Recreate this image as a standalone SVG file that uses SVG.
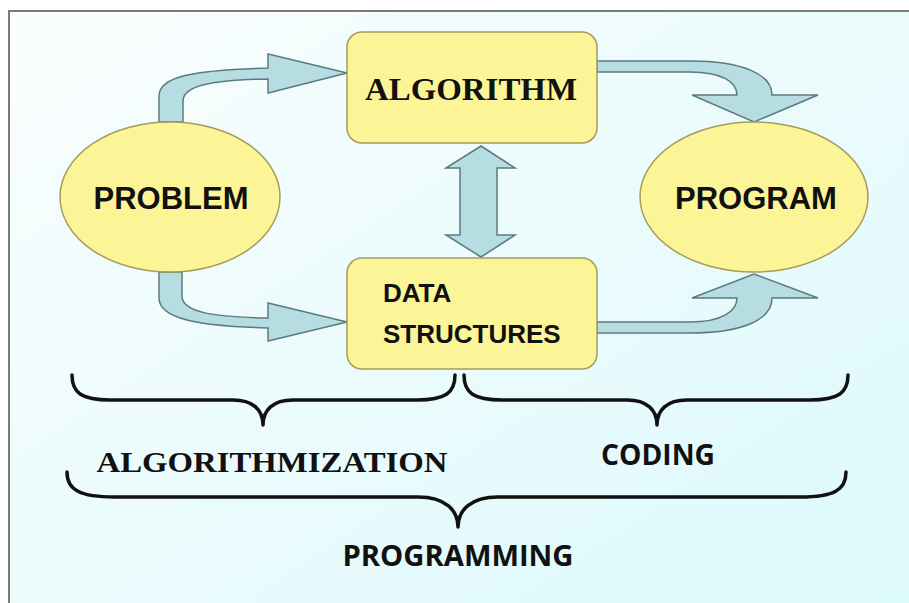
<svg xmlns="http://www.w3.org/2000/svg" width="909" height="603" viewBox="0 0 909 603">
<defs>
<linearGradient id="bg" x1="0" y1="0" x2="1" y2="1">
<stop offset="0" stop-color="#fafdfd"/>
<stop offset="1" stop-color="#dcf9fc"/>
</linearGradient>
<style>
.node{fill:#fcf597;stroke:#a39c5c;stroke-width:1.5}
.arr{fill:#b6dde1;stroke:#5c7b80;stroke-width:1.5;stroke-linejoin:miter}
.brace{fill:none;stroke:#111;stroke-width:3.5;stroke-linecap:round;stroke-linejoin:round}
.sans{font-family:"Liberation Sans",Arial,sans-serif;font-weight:bold;fill:#111}
.open{font-family:"Open Sans","Liberation Sans",sans-serif;font-weight:bold;fill:#111}
.serif{font-family:"Liberation Serif","Times New Roman",serif;font-weight:bold;fill:#111}
</style>
</defs>
<rect x="0" y="0" width="909" height="603" fill="#ffffff"/>
<rect x="9" y="11" width="910" height="600" fill="url(#bg)" stroke="#7a7a7a" stroke-width="2"/>

<g id="connectors">
<path class="arr" d="M159,122 L159,96 C159,76 195,70 268,68 L268,54 L347,73 L268,93 L268,79 C210,80 183,86 183,101 L183,122 Z"/>
<path class="arr" d="M159,272 L159,298 C159,318 195,326 268,328 L268,341 L347,322 L268,303 L268,318 C212,317 182,312 182,296 L182,272 Z"/>
<path class="arr" d="M481,146 L515,168 L497,168 L497,235 L515,235 L481,257 L446,235 L460,235 L460,168 L446,168 Z"/>
<path class="arr" d="M597,61 L690,61 C742,61 772,74 772,95 L818,95 L754,122 L692,95 L737,95 C737,82 722,72 690,72 L597,72 Z"/>
<path class="arr" d="M597,333 L690,333 C742,333 772,320 772,298 L818,298 L754,274 L692,298 L737,298 C737,311 722,322 690,322 L597,322 Z"/>
</g>

<g id="problem">
<ellipse class="node" cx="170" cy="197" rx="110" ry="75"/>
<text class="sans" x="171" y="209" font-size="31" text-anchor="middle">PROBLEM</text>
</g>
<g id="algorithm">
<rect class="node" x="347" y="32" width="250" height="111" rx="15"/>
<text class="serif" x="471" y="100" font-size="31" text-anchor="middle" textLength="212" lengthAdjust="spacingAndGlyphs">ALGORITHM</text>
</g>
<g id="data-structures">
<rect class="node" x="347" y="258" width="250" height="111" rx="15"/>
<text class="sans" x="383" y="302" font-size="26">DATA</text>
<text class="sans" x="383" y="343" font-size="26">STRUCTURES</text>
</g>
<g id="program">
<ellipse class="node" cx="754" cy="197" rx="114" ry="75"/>
<text class="sans" x="756" y="209" font-size="31" text-anchor="middle">PROGRAM</text>
</g>

<g id="algorithmization">
<path class="brace" d="M72,375 C72,393 82,400 110,400 L233,400 C253,400 263,410 263,425 C263,410 273,400 293,400 L417,400 C445,400 455,393 455,375"/>
<text class="serif" x="272" y="472" font-size="30" text-anchor="middle" textLength="351" lengthAdjust="spacingAndGlyphs">ALGORITHMIZATION</text>
</g>
<g id="coding">
<path class="brace" d="M464,375 C464,393 474,400 502,400 L627,400 C647,400 657,410 657,425 C657,410 667,400 687,400 L810,400 C838,400 848,393 848,375"/>
<text class="open" x="658" y="465" font-size="28" text-anchor="middle" textLength="114" lengthAdjust="spacingAndGlyphs">CODING</text>
</g>
<g id="programming">
<path class="brace" d="M67,472 C67,490 80,497 115,497 L418,497 C445,497 458,510 458,527 C458,510 471,497 498,497 L800,497 C834,497 846,490 846,472"/>
<text class="open" x="458" y="566" font-size="28" text-anchor="middle" textLength="231" lengthAdjust="spacingAndGlyphs">PROGRAMMING</text>
</g>
</svg>
